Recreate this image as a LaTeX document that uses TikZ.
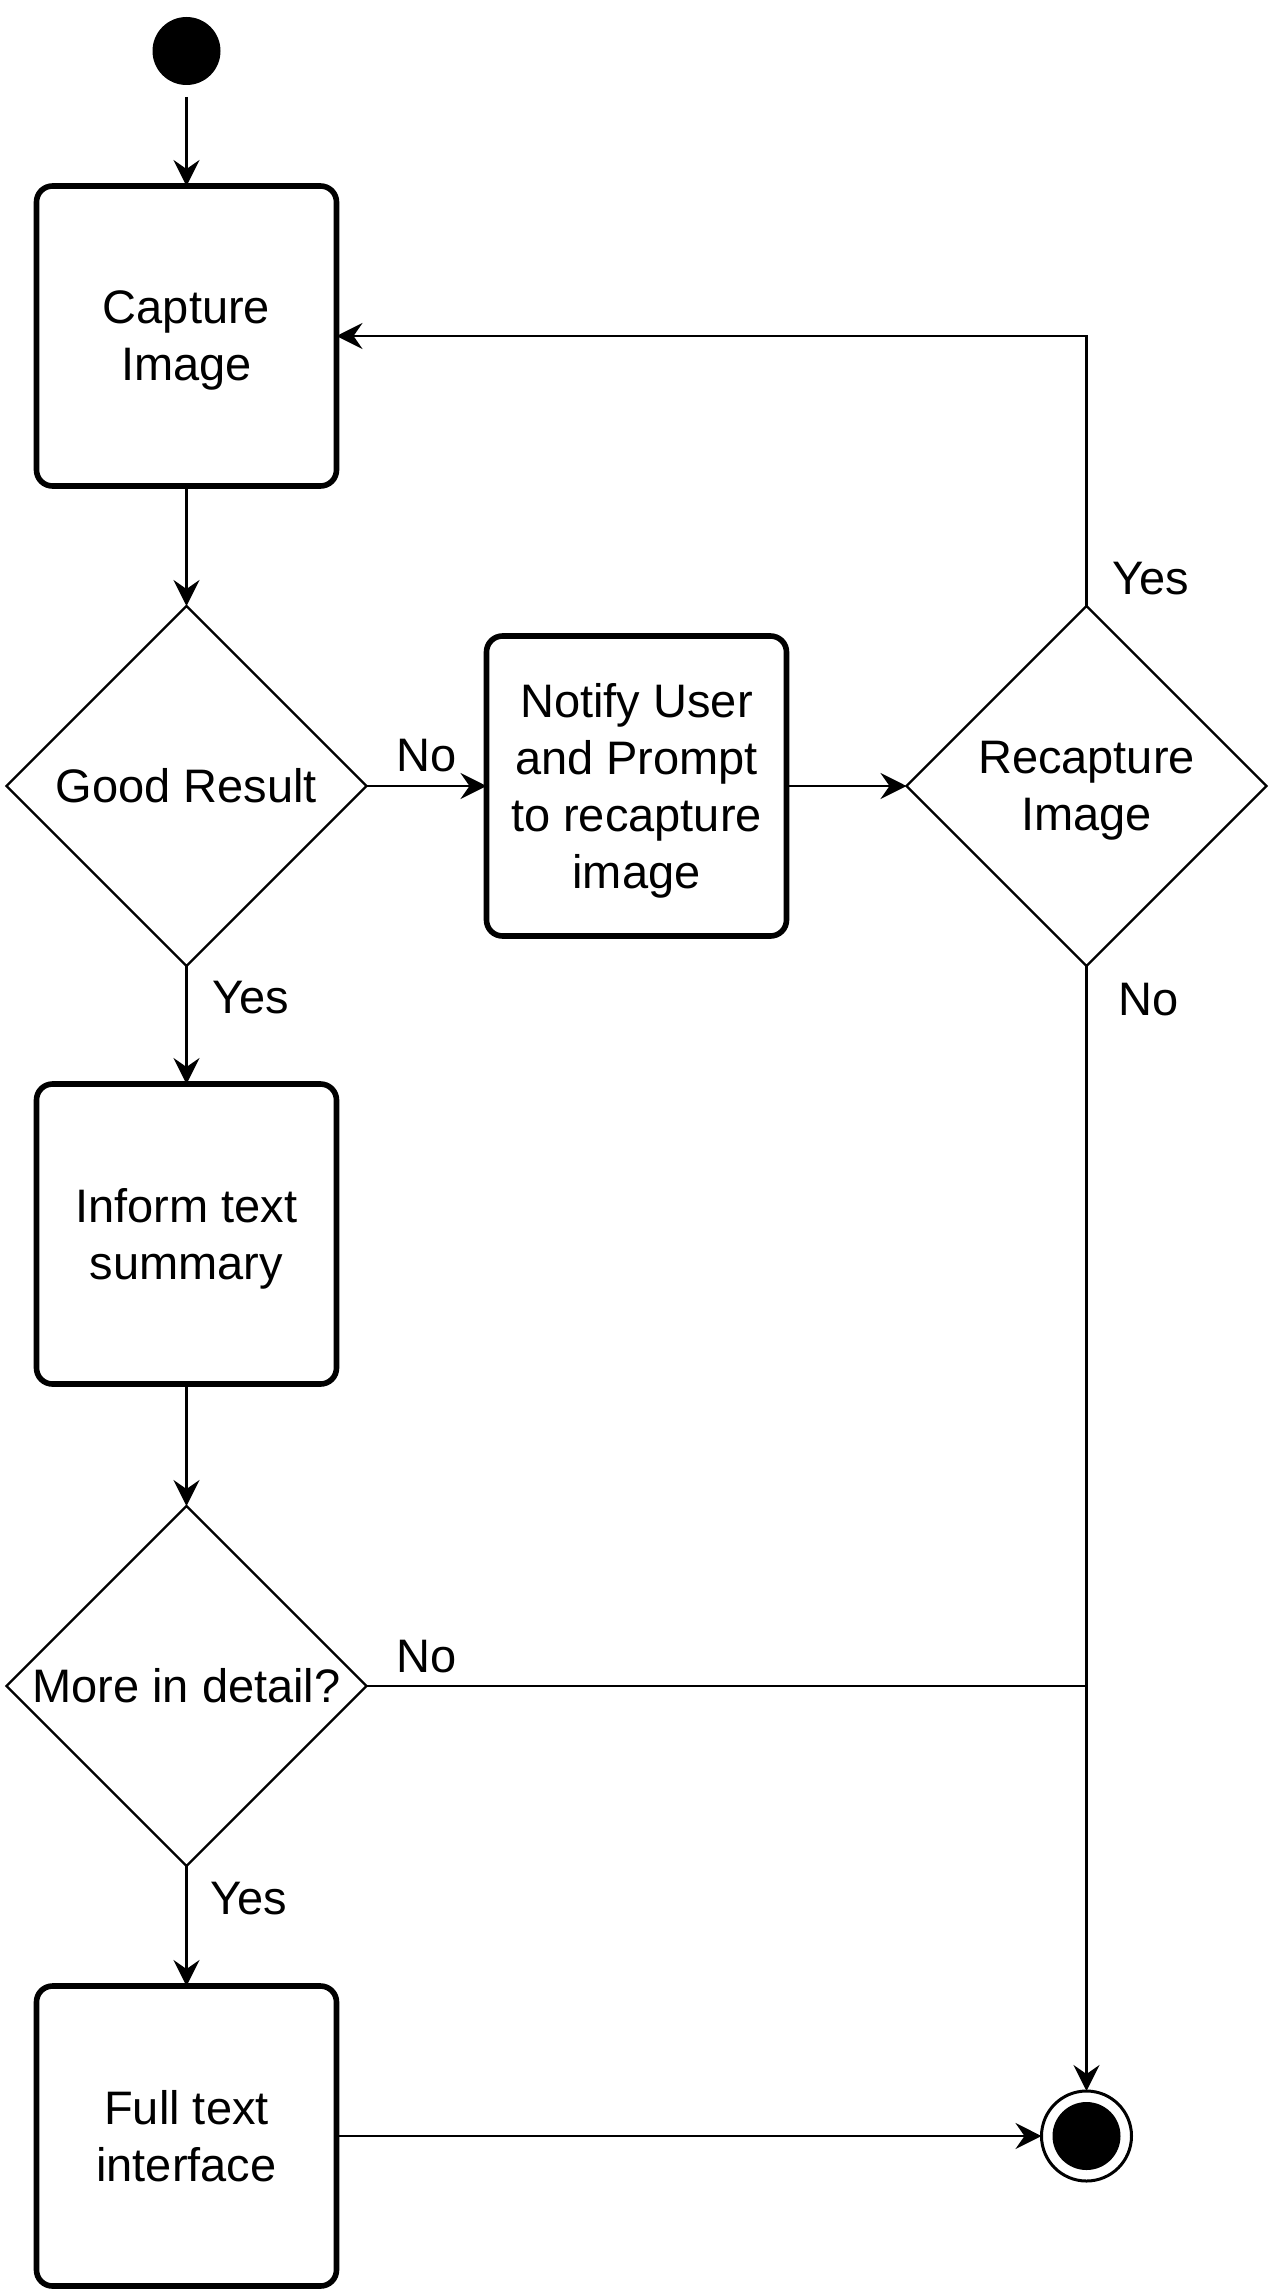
\documentclass[tikz,border=0pt]{standalone}
\usepackage{fontspec}
\setmainfont{Liberation Sans}
\usetikzlibrary{positioning, arrows.meta, shapes.geometric}

\begin{document}
\begin{tikzpicture}[
    every node/.style={align=center, outer sep=0pt},
    action/.style={rectangle, draw, line width=2.8pt, rounded corners=8pt, minimum width=150pt, minimum height=150pt, text depth=0pt},
    decision/.style={diamond, draw, line width=1.1pt, minimum width=180pt, minimum height=180pt, inner sep=0pt},
    startdot/.style={circle, fill, minimum size=34pt, inner sep=0pt},
    enddot/.style={circle, draw, line width=1.5pt, minimum size=45pt, inner sep=0pt,
        path picture={\fill (path picture bounding box.center) circle (17pt);}},
    lbl/.style={inner sep=0pt, anchor=base west},
    arrow/.style={-{Stealth[length=13pt, width=13pt, inset=4.5pt]}, line width=1.4pt}
]
\fontsize{23.5}{28.5}\selectfont
\node (start) [startdot] {};
\node (capture) [action, below=50.5pt of start] {Capture\\Image};
\node (good) [decision, below=60pt of capture, label={center:Good Result}] {};
\node (notify) [action, right=60pt of good] {Notify User\\and Prompt\\to recapture\\image};
\node (recap) [decision, right=60pt of notify, label={[text depth=0pt]center:{Recapture\\Image}}] {};
\node (inform) [action, below=59pt of good] {Inform text\\summary};
\node (more) [decision, below=61pt of inform, label={center:More in detail?}] {};
\node (full) [action, below=60pt of more] {Full text\\interface};
\node (finish) [enddot] at (full -| recap) {};
\coordinate (join) at (more -| recap);

\node (yesrecap) [lbl] at ([xshift=13pt, yshift=6pt]recap.north) {Yes};
\node (nogood) [lbl] at ([xshift=15pt, yshift=7.5pt]good.east) {No};
\node (yesgood) [lbl] at ([xshift=13pt, yshift=-23.5pt]good.south) {Yes};
\node (norecap) [lbl] at ([xshift=16pt, yshift=-24.5pt]recap.south) {No};
\node (nomore) [lbl] at ([xshift=15pt, yshift=7pt]more.east) {No};
\node (yesmore) [lbl] at ([xshift=12pt, yshift=-24pt]more.south) {Yes};

\draw [arrow, shorten <=6pt] (start) -- (capture);
\draw [arrow] (capture) -- (good);
\draw [arrow] (good) -- (notify);
\draw [arrow] (notify) -- (recap);
\draw [arrow] (recap.north) |- (capture.east);
\draw [arrow] (good) -- (inform);
\draw [arrow] (inform) -- (more);
\draw [line width=1.4pt] (more) -- (join);
\draw [arrow] (recap) -- (finish);
\draw [arrow] (more) -- (full);
\draw [arrow] (full) -- (finish);

\useasboundingbox ([shift={(-93.25pt,25.5pt)}]start.center) rectangle ++(636.5pt,-1148pt);
\end{tikzpicture}
\end{document}
